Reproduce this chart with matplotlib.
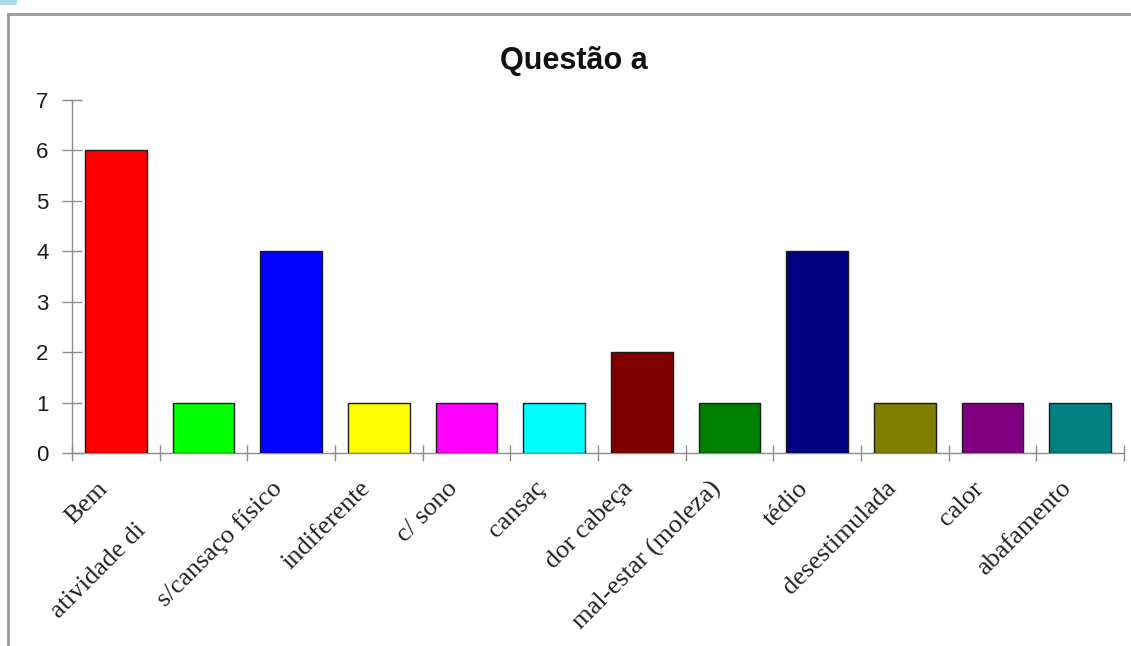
import matplotlib
matplotlib.use("Agg")
import matplotlib.pyplot as plt
from matplotlib.patches import Rectangle
from matplotlib.lines import Line2D

categories = ["Bem", "atividade di", "s/cansaço físico", "indiferente", "c/ sono",
              "cansaç", "dor cabeça", "mal-estar (moleza)", "tédio", "desestimulada",
              "calor", "abafamento"]
values = [6, 1, 4, 1, 1, 1, 2, 1, 4, 1, 1, 1]
colors = ["#ff0000", "#00ff00", "#0000ff", "#ffff00", "#ff00ff", "#00ffff",
          "#800000", "#008000", "#000080", "#808000", "#800080", "#008080"]
yticks = [0, 1, 2, 3, 4, 5, 6, 7]

W, H = 1131, 646
fig = plt.figure(figsize=(W / 100, H / 100), dpi=100)
fig.patch.set_facecolor("white")

# outer chart frame (top and left edges visible)
fig.add_artist(Line2D([8 / W, 1.0], [1 - 14 / H, 1 - 14 / H], transform=fig.transFigure,
                      color="#9a9a9a", lw=2.0))
fig.add_artist(Line2D([8 / W, 8 / W], [0, 1 - 14 / H], transform=fig.transFigure,
                      color="#9a9a9a", lw=2.0))
fig.add_artist(Rectangle((0, 1 - 5 / H), 17 / W, 5 / H, transform=fig.transFigure,
                         facecolor="#a9dcea", edgecolor="none"))

left, right = 72 / W, 1124 / W
bottom, top = 1 - 453 / H, 1 - 100 / H
ax = fig.add_axes([left, bottom, right - left, top - bottom])

x = list(range(len(categories)))
ax.bar(x, values, width=0.7, color=colors, edgecolor="#1a1a1a", linewidth=1.0, zorder=3)

ax.set_xlim(-0.5, len(categories) - 0.5)
ax.set_ylim(0, 7)
ax.set_yticks(yticks)
ax.set_yticklabels([str(v) for v in yticks], fontsize=16, family="Liberation Sans",
                   color="#1a1a1a")
ax.tick_params(axis="y", direction="inout", length=14, width=1, color="#8c8c8c", pad=10)

# category boundary ticks
ax.set_xticks([i - 0.5 for i in range(len(categories) + 1)])
ax.set_xticklabels([])
ax.tick_params(axis="x", direction="inout", length=12, width=1, color="#8c8c8c")

for s in ["top", "right"]:
    ax.spines[s].set_visible(False)
for s in ["left", "bottom"]:
    ax.spines[s].set_color("#8c8c8c")
    ax.spines[s].set_linewidth(1)

# rotated category labels
offsets = {1: (-61, -74)}
for i, name in enumerate(categories):
    dx, dy = offsets.get(i, (-12, -32))
    ax.annotate(name, xy=(i, 0), xycoords=("data", "axes fraction"),
                xytext=(dx, dy), textcoords="offset pixels",
                rotation=45, rotation_mode="anchor", ha="right", va="center",
                fontsize=19, family="Liberation Serif", color="#202020")

fig.text(574 / W, 1 - 61 / H, "Questão a", ha="center", va="center",
         fontsize=22, fontweight="bold", family="Liberation Sans", color="#111111")

fig.savefig("out.png", dpi=100)
